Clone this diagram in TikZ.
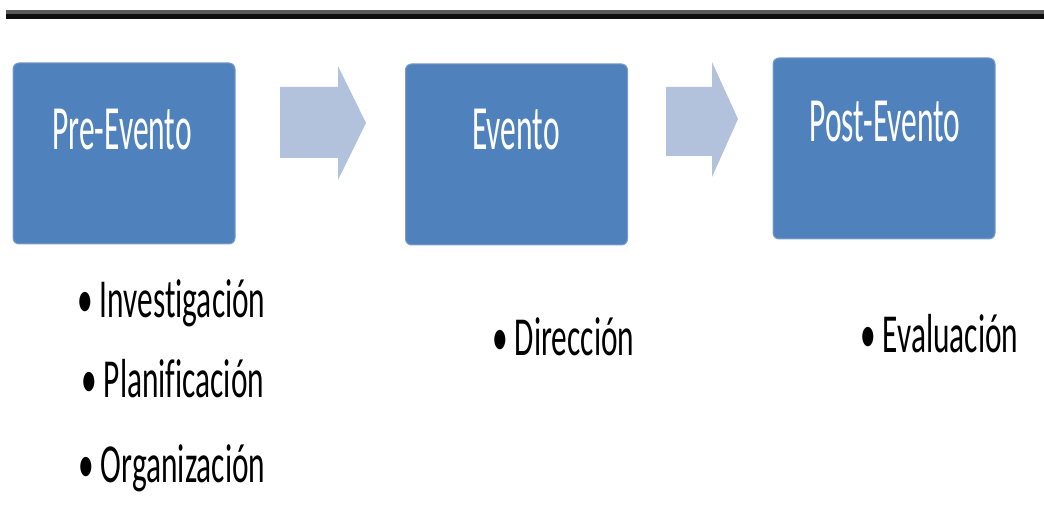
\documentclass[tikz,border=0pt]{standalone}
\usepackage{fontspec}
\setmainfont{Carlito}
\newfontfamily\stagefont[FakeStretch=0.5,Ligatures=CommonOff]{Carlito}
\newfontfamily\itemfont[FakeStretch=0.57,Ligatures=CommonOff]{Carlito}
\usetikzlibrary{positioning}
\definecolor{stageblue}{HTML}{4F81BD}
\definecolor{stageedge}{HTML}{7C9DCB}
\definecolor{flowblue}{HTML}{B3C2DC}
\tikzstyle{stage}=[rectangle, rounded corners=6pt, fill=stageblue,
                   draw=stageedge, line width=1pt,
                   minimum width=222pt, minimum height=181pt,
                   inner sep=0pt]
\tikzstyle{stagetext}=[text=white, inner sep=0pt, anchor=base,
                       font=\stagefont\fontsize{63}{63}\selectfont]
\tikzstyle{item}=[inner sep=0pt, anchor=base west,
                  font=\itemfont\fontsize{55}{55}\selectfont]
\tikzstyle{flow}=[fill=flowblue]

\begin{document}
\begin{tikzpicture}[x=1pt,y=-1pt]
     \useasboundingbox (0,0) rectangle (1044,510);
     % top rule
     \fill[black!65] (6,10) rectangle (1044,14);
     \fill[black!95] (6,14) rectangle (1044,19);

     \node (pre)  at (124,153.5) [stage]{};
     \node (evt)  at (516.5,154.5) [stage]{};
     \node (post) at (884,148.5) [stage]{};

     \node (pre-t)  at (122,150) [stagetext]{Pre-Evento};
     \node (evt-t)  at (516,150) [stagetext]{Evento};
     \node (post-t) at (885,142) [stagetext]{Post-Evento};

     % flow arrows
     \fill[flow] (280,87) -- (338,87) -- (338,66) -- (366,123)
                 -- (338,180) -- (338,158) -- (280,158) -- cycle;
     \fill[flow] (666,87) -- (712,87) -- (712,62) -- (738,119)
                 -- (712,177) -- (712,156) -- (666,156) -- cycle;

     \foreach \n/\txt/\x/\y in {inv/Investigación/77/318,
                                pla/Planificación/81/398,
                                org/Organización/78/482,
                                dir/Dirección/492/356,
                                eva/Evaluación/860/353}
       \node (\n) at (\x,\y) [item]{\textbullet\ \txt};
\end{tikzpicture}
\end{document}
